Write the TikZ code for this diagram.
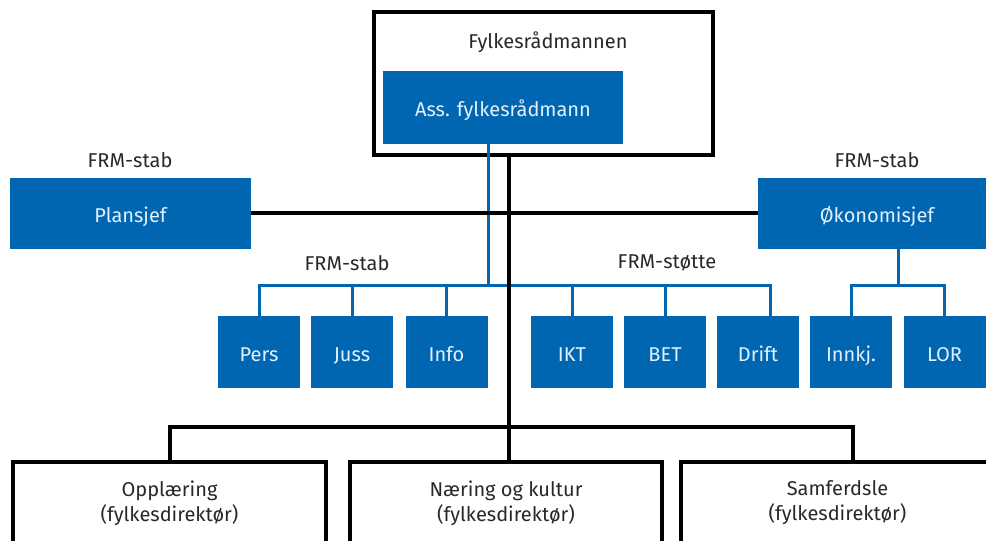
\documentclass[tikz,border=0pt]{standalone}
\usepackage{fontspec}
\setmainfont{Fira Sans}
\usetikzlibrary{positioning,calc}
\usepackage{xcolor}
\definecolor{fkblue}{RGB}{0,102,178}
\definecolor{boxtext}{RGB}{226,240,252}
\definecolor{darktext}{RGB}{40,40,40}
\tikzset{
bluebox/.style={
  rectangle,
  fill=fkblue,
  text=boxtext,
  inner sep=0pt,
  text height=18pt,
  text depth=0pt,
  minimum width=82pt,
  minimum height=72pt
  },
blackbox/.style={
  rectangle,
  draw=black,
  line width=4pt,
  inner sep=0pt,
  text=darktext,
  align=center
  },
caption/.style={text=darktext,inner sep=0pt},
blueline/.style={draw=fkblue,line width=3pt},
blackline/.style={draw=black,line width=4pt},
%dropline/.style={draw=fkblue,line width=2pt}
}

\begin{document}
\begin{tikzpicture}[x=1pt,y=-1pt,font=\fontsize{20}{25}\selectfont]
    \path [use as bounding box,clip] (0,0) rectangle (986,541);
    % fylkesraadmannen
    \node [blackbox,minimum width=339pt,minimum height=143pt] (frm) at (543.5,83.5) {};
    \node [caption] (frmtitle) at (548,42) {Fylkesrådmannen};
    \node [bluebox,minimum width=240pt,minimum height=73pt] (ass) at (503,107.5) {Ass. fylkesrådmann};
    % stab
    \node [bluebox,minimum width=241pt,minimum height=71pt] (plan) at (130.5,213) {Plansjef};
    \node [bluebox,minimum width=238pt,minimum height=71pt] (oko) at (877,213) {Økonomisjef};
    \node [caption] (planstab) at (130,160) {FRM-stab};
    \node [caption] (okostab) at (877,160) {FRM-stab};
    \node [caption] (stab) at (347,263) {FRM-stab};
    \node [caption] (stotte) at (667,263) {FRM-støtte};
    \foreach \name/\txt/\x in {pers/Pers/259, juss/Juss/352, info/Info/446.5, ikt/IKT/572, bet/BET/665, drift/Drift/758, innkj/Innkj./851, lor/LOR/944.5}
    {
        \node [bluebox] (\name) at (\x,352) {\txt};
    }
    % direktoerer
    \node [blackbox,minimum width=313pt,minimum height=82pt] (opp) at (169.5,503) {Opplæring\\(fylkesdirektør)};
    \node [blackbox,minimum width=312pt,minimum height=82pt] (nering) at (506,503) {Næring og kultur\\(fylkesdirektør)};
    \node [blackbox,minimum width=313pt,minimum height=82pt] (samf) at (837.5,503) {Samferdsle\\(fylkesdirektør)};

    % blaa linjer
    \coordinate (stabjoin) at (488,285);
    \coordinate (okojoin) at (898,285);
    \coordinate (driftdrop) at ($(drift.north)+(12,0)$);
    \draw [blueline] (ass.south -| stabjoin) -- (stabjoin);
    \draw [blueline] (pers.north) |- (stabjoin) -| (driftdrop);
    \foreach \n in {juss, info, ikt, bet}
    {
        \draw [blueline] (\n.north) -- (\n.north |- stabjoin);
    }
    \draw [blueline] (oko.south -| okojoin) -- (okojoin);
    \draw [blueline] (innkj.north) |- (okojoin) -| (lor.north);

    % svarte linjer
    \coordinate (dirjoin) at (509,427);
    \coordinate (samfdrop) at ($(samf.north)+(15,0)$);
    \draw [blackline] (plan.east) -- (oko.west);
    \draw [blackline] (frm.south -| dirjoin) -- (nering.north -| dirjoin);
    \draw [blackline] (opp.north) |- (dirjoin) -| (samfdrop);
\end{tikzpicture}
\end{document}
